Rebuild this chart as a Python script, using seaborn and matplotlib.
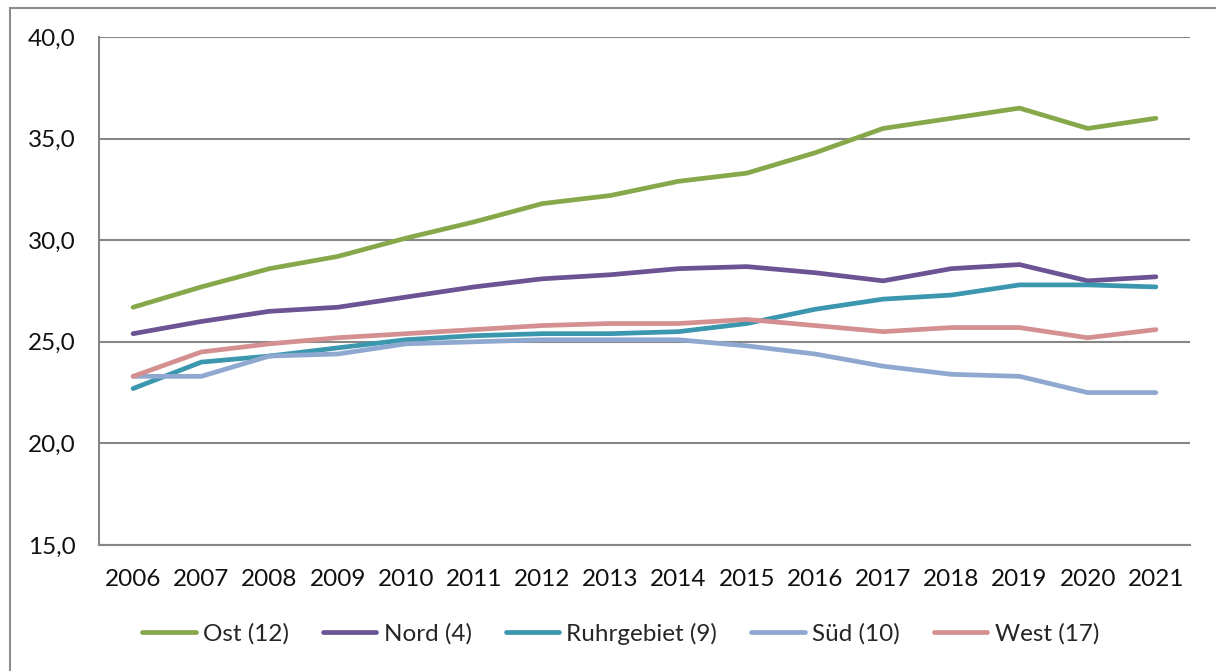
import pandas as pd
import numpy as np
import matplotlib.pyplot as plt
from matplotlib.patches import Rectangle
from matplotlib.ticker import MultipleLocator, FixedLocator
import seaborn as sns

years = [str(y) for y in range(2006, 2022)]
ost = [26.7, 27.7, 28.6, 29.2, 30.1, 30.9, 31.8, 32.2, 32.9, 33.3, 34.3, 35.5, 36.0, 36.5, 35.5, 36.0]
nord = [25.4, 26.0, 26.5, 26.7, 27.2, 27.7, 28.1, 28.3, 28.6, 28.7, 28.4, 28.0, 28.6, 28.8, 28.0, 28.2]
ruhr = [22.7, 24.0, 24.3, 24.7, 25.1, 25.3, 25.4, 25.4, 25.5, 25.9, 26.6, 27.1, 27.3, 27.8, 27.8, 27.7]
sued = [23.3, 23.3, 24.3, 24.4, 24.9, 25.0, 25.1, 25.1, 25.1, 24.8, 24.4, 23.8, 23.4, 23.3, 22.5, 22.5]
west = [23.3, 24.5, 24.9, 25.2, 25.4, 25.6, 25.8, 25.9, 25.9, 26.1, 25.8, 25.5, 25.7, 25.7, 25.2, 25.6]

labels = ['Ost (12)', 'Nord (4)', 'Ruhrgebiet (9)', 'Süd (10)', 'West (17)']
colors = ['#87A84A', '#6B5394', '#3A97AE', '#8FA8D0', '#D49090']

df = pd.DataFrame({'Jahr': years * 5,
                   'Wert': ost + nord + ruhr + sued + west,
                   'Region': [l for l in labels for _ in years]})

sns.set_style('white')
plt.rcParams['font.family'] = ['Lato', 'DejaVu Sans']

fig = plt.figure(figsize=(12.16, 6.71), dpi=100)
ax = fig.add_axes([99 / 1216, 1 - 545 / 671, (1190 - 99) / 1216, (545 - 37) / 671])

sns.lineplot(data=df, x='Jahr', y='Wert', hue='Region', palette=colors,
             linewidth=3.4, ax=ax, sort=False)
for line in ax.get_lines():
    line.set_solid_capstyle('round')

ax.set_xlim(-0.5, 15.5)
ax.set_ylim(15, 40)
ax.yaxis.set_major_locator(MultipleLocator(5))
ax.set_yticks(ax.get_yticks())
ax.set_yticklabels([f'{v:.1f}'.replace('.', ',') for v in ax.get_yticks()])
ax.set_ylim(15, 40)
ax.xaxis.set_minor_locator(FixedLocator(np.arange(-0.5, 16, 1)))
ax.tick_params(axis='x', which='major', length=0, pad=17, labelsize=17.5, labelcolor='#111111')
ax.tick_params(axis='x', which='minor', length=7, width=1.5, color='#868686', direction='out')
ax.tick_params(axis='y', length=7, width=1.5, color='#868686', direction='out', labelsize=17.5,
               labelcolor='#111111', pad=10)
ax.grid(axis='y', color='#868686', linewidth=1.5)
ax.set_axisbelow(True)
for s in ['top', 'right']:
    ax.spines[s].set_visible(False)
for s in ['left', 'bottom']:
    ax.spines[s].set_color('#868686')
    ax.spines[s].set_linewidth(1.5)
ax.set_xlabel('')
ax.set_ylabel('')

handles, labs = ax.get_legend_handles_labels()
ax.legend(handles, labs, loc='center', bbox_to_anchor=(0.478, -0.175), ncol=5, frameon=False,
          fontsize=17.5, handlelength=2.2, handletextpad=0.3, columnspacing=1.4)

fig.patches.append(Rectangle((10 / 1216, -0.1), 1.2, 1.1 - 8 / 671, transform=fig.transFigure,
                             fill=False, edgecolor='#8c8c8c', linewidth=1.5))

fig.savefig('out.png', dpi=100)
